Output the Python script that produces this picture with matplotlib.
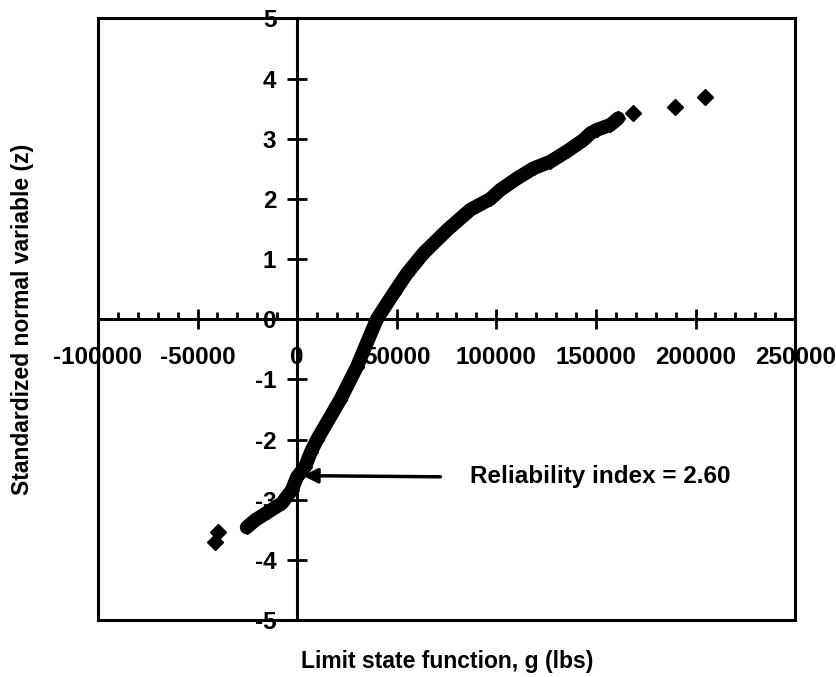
import matplotlib
matplotlib.use("Agg")
import matplotlib.pyplot as plt
from matplotlib.patches import Rectangle
from matplotlib.ticker import MultipleLocator

plt.rcParams["font.family"] = ["Liberation Sans", "DejaVu Sans"]
plt.rcParams["font.weight"] = "bold"
plt.rcParams["axes.unicode_minus"] = False

# simulated points: limit state g (lbs) vs standardized z
g_band = [-25300, -21100, -14400, -7700, -2700, 0, 4000, 7000, 10000, 21600,
          30000, 40000, 48400, 55100, 63500, 75200, 86900, 97000, 102000,
          110300, 118700, 127100, 135400, 143700, 147200, 150500, 157200, 161200]
z_band = [-3.46, -3.34, -3.20, -3.06, -2.84, -2.62, -2.45, -2.20, -2.00, -1.34,
          -0.79, 0.00, 0.43, 0.76, 1.10, 1.48, 1.82, 2.00, 2.15,
          2.34, 2.51, 2.62, 2.79, 2.98, 3.09, 3.15, 3.23, 3.34]
g_tail = [-41200, -39500, 168600, 189850, 204900]
z_tail = [-3.70, -3.53, 3.43, 3.53, 3.70]

x_ticks = [-100000, -50000, 0, 50000, 100000, 150000, 200000, 250000]
y_ticks = [-5, -4, -3, -2, -1, 0, 1, 2, 3, 4, 5]

beta = 2.60
FS_TICK = 17.5
FS_LABEL = 16.5

fig = plt.figure(figsize=(8.37, 6.77), dpi=100)
ax = fig.add_axes([0.117, 0.0842, 0.833, 0.8885])

ax.plot(g_band, z_band, "-", color="black", lw=10, solid_joinstyle="round",
        solid_capstyle="round", marker="D", ms=7.5, zorder=3)
ax.plot(g_tail, z_tail, "D", color="black", ms=8, zorder=3)

ax.set_xlim(-100000, 250000)
ax.set_ylim(-5, 5)
ax.set_xticks(x_ticks)
ax.set_yticks(y_ticks)
ax.xaxis.set_minor_locator(MultipleLocator(10000))

# axes cross at the origin, outer box drawn separately
ax.spines["left"].set_position("zero")
ax.spines["bottom"].set_position("zero")
for s in ["top", "right"]:
    ax.spines[s].set_visible(False)
for s in ["left", "bottom"]:
    ax.spines[s].set_linewidth(2.2)
ax.add_patch(Rectangle((0, 0), 1, 1, transform=ax.transAxes, fill=False,
                       lw=2.2, edgecolor="black", clip_on=False, zorder=4))

ax.tick_params(axis="x", which="major", direction="inout", length=14, width=2,
               pad=12.5, labelsize=FS_TICK)
ax.tick_params(axis="x", which="minor", direction="in", length=5, width=2)
ax.tick_params(axis="y", which="major", direction="inout", length=14, width=2,
               pad=8, labelsize=FS_TICK)

ax.annotate("", xy=(1500, -beta), xytext=(73300, -2.62),
            arrowprops=dict(arrowstyle="-|>", lw=2.5, color="black",
                            mutation_scale=22))
ax.text(86900, -2.62, f"Reliability index = {beta:.2f}", fontsize=FS_TICK,
        fontweight="bold", va="center", ha="left")

fig.text(0.534, 0.023, "Limit state function, g (lbs)", fontsize=FS_LABEL,
         fontweight="bold", ha="center", va="center")
fig.text(0.027, 0.528, "Standardized normal variable (z)", fontsize=FS_LABEL,
         fontweight="bold", ha="center", va="center", rotation=90)

fig.savefig("out.png", dpi=100)
